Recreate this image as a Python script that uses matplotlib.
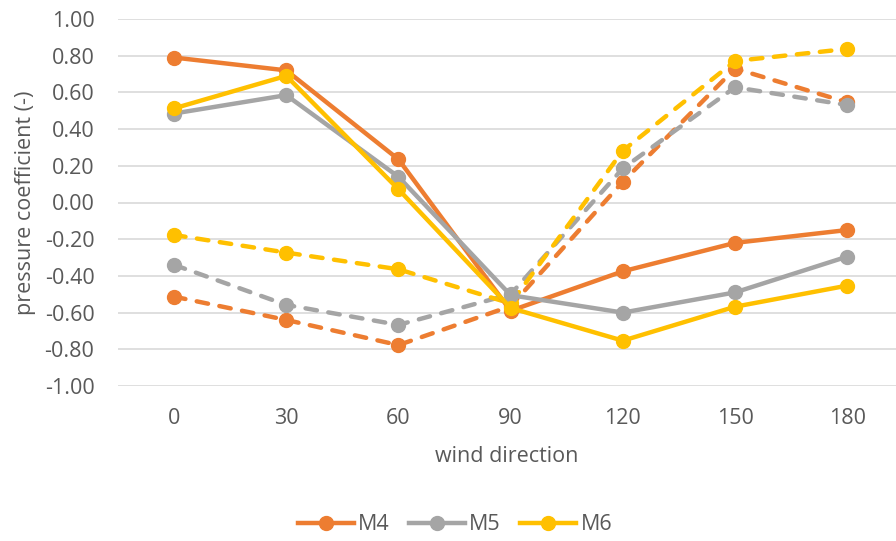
import numpy as np
import matplotlib.pyplot as plt

plt.rcParams['font.family'] = ['Open Sans', 'DejaVu Sans']

wind_direction = [0, 30, 60, 90, 120, 150, 180]

# solid lines (legend entries)
m4 = [0.79, 0.72, 0.235, -0.59, -0.375, -0.22, -0.15]
m5 = [0.485, 0.585, 0.14, -0.505, -0.60, -0.49, -0.295]
m6 = [0.513, 0.69, 0.072, -0.575, -0.753, -0.568, -0.453]

# dashed lines (no legend entries)
m4_dash = [-0.513, -0.64, -0.777, -0.565, 0.113, 0.73, 0.546]
m5_dash = [-0.34, -0.558, -0.667, -0.50, 0.186, 0.628, 0.531]
m6_dash = [-0.177, -0.273, -0.364, -0.55, 0.282, 0.771, 0.837]

c_orange = '#ED7D31'
c_gray = '#A5A5A5'
c_yellow = '#FFC000'
text_col = '#595959'

fig = plt.figure(figsize=(8.96, 5.41), dpi=100)
ax = fig.add_axes([118 / 896, 155 / 541, 778 / 896, 367 / 541])

x = np.arange(len(wind_direction))

for vals, col in [(m4_dash, c_orange), (m5_dash, c_gray), (m6_dash, c_yellow)]:
    ax.plot(x, vals, color=col, linewidth=3.2, linestyle=(0, (2.6, 2.6)),
            dash_capstyle='round', marker='o', markersize=10, zorder=3)

for vals, col, name in [(m4, c_orange, 'M4'), (m5, c_gray, 'M5'), (m6, c_yellow, 'M6')]:
    ax.plot(x, vals, color=col, linewidth=3.2, marker='o', markersize=10,
            label=name, zorder=4)

yt = np.round(np.arange(-1.0, 1.01, 0.2), 2) + 0.0
ax.set_xlim(-0.5, 6.435)
ax.set_ylim(-1.0, 1.0)
ax.set_yticks(yt)
ax.set_yticklabels([f'{v:.2f}'.replace('-0.00', '0.00') for v in yt])
ax.set_xticks(x)
ax.set_xticklabels([str(w) for w in wind_direction])
ax.grid(axis='y', color='#D9D9D9', linewidth=1.2)
ax.set_axisbelow(True)
for s in ax.spines.values():
    s.set_visible(False)
ax.tick_params(length=0, labelsize=15.5, colors=text_col)
ax.tick_params(axis='x', pad=16)
ax.tick_params(axis='y', pad=17)

ax.set_xlabel('wind direction', fontsize=15.5, color=text_col, labelpad=12)
ax.set_ylabel('pressure coefficient (-)', fontsize=15.5, color=text_col, labelpad=6)

fig.legend(loc='center', bbox_to_anchor=(455 / 896, 1 - 525 / 541), ncol=3,
           frameon=False, fontsize=15.5, handlelength=2.6, columnspacing=0.9,
           handletextpad=0.2, labelcolor=text_col)

fig.savefig('out.png', dpi=100)
